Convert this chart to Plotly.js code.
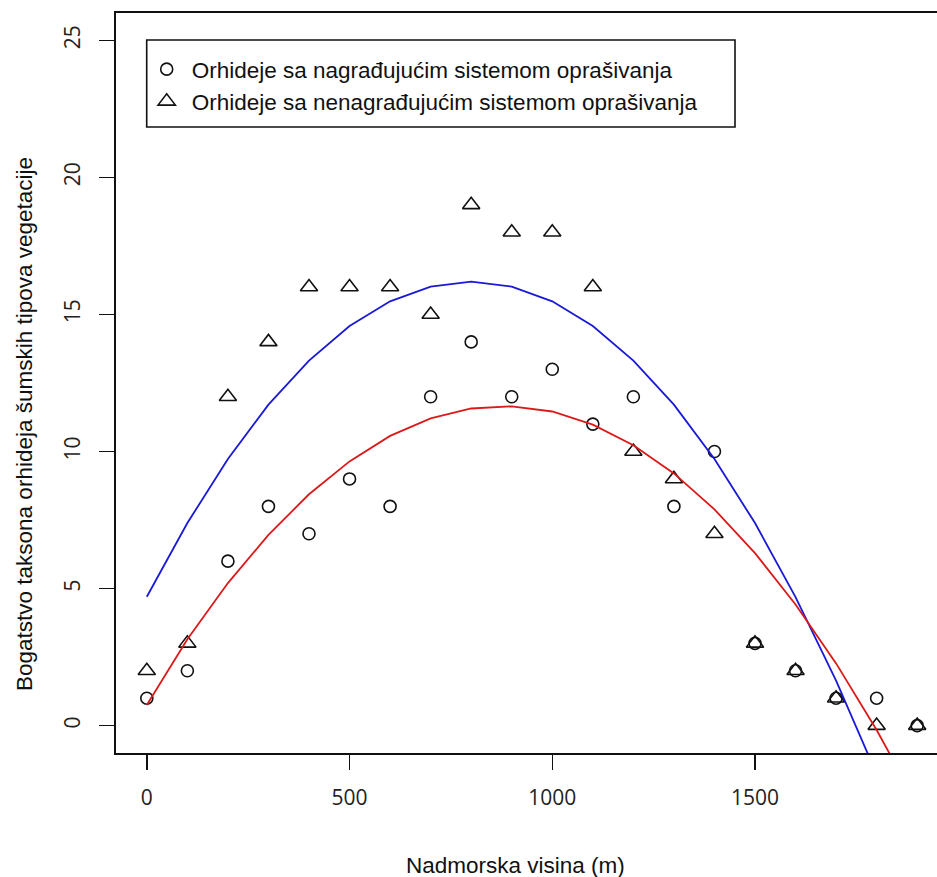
<!DOCTYPE html>
<html>
<head>
<meta charset="utf-8">
<script src="https://cdn.plot.ly/plotly-3.0.1.min.js"></script>
<style>
  html, body { margin: 0; padding: 0; overflow: hidden; background: #fff; }
  #chart { width: 960px; height: 877px; }
</style>
</head>
<body>
<div id="chart"></div>
<script>
// Elevation (m)
const elevation = [0, 100, 200, 300, 400, 500, 600, 700, 800, 900, 1000, 1100, 1200, 1300, 1400, 1500, 1600, 1700, 1800, 1900];
// Rewarding pollination system (circles)
const rewarding = [1, 2, 6, 8, 7, 9, 8, 12, 14, 12, 13, 11, 12, 8, 10, 3, 2, 1, 1, 0];
// Non-rewarding pollination system (triangles)
const nonrewarding = [2, 3, 12, 14, 16, 16, 16, 15, 19, 18, 18, 16, 10, 9, 7, 3, 2, 1, 0, 0];
// Fitted curves
const rewardingFit = [0.75, 3.15, 5.2, 6.96, 8.44, 9.64, 10.57, 11.21, 11.57, 11.65, 11.46, 10.98, 10.23, 9.2, 7.89, 6.29, 4.42, 2.27, -0.16, -2.86];
const nonrewardingFit = [4.7, 7.39, 9.73, 11.71, 13.32, 14.58, 15.48, 16.02, 16.2, 16.02, 15.48, 14.58, 13.32, 11.71, 9.73, 7.39, 4.69, 1.64, -1.77, -5.5];

const legendNames = ['Orhideje sa nagrađujućim sistemom oprašivanja', 'Orhideje sa nenagrađujućim sistemom oprašivanja'];
const xTicks = [0, 500, 1000, 1500];
const yTicks = [0, 5, 10, 15, 20, 25];

const traces = [
  {
    x: elevation, y: rewarding, type: 'scatter', mode: 'markers', name: legendNames[0],
    marker: { symbol: 'circle-open', size: 12, color: '#111', line: { width: 1.6, color: '#111' } }
  },
  {
    x: elevation, y: nonrewarding, type: 'scatter', mode: 'markers', name: legendNames[1],
    marker: { symbol: 'triangle-up-open', size: 15, color: '#111', line: { width: 1.6, color: '#111' } }
  },
  {
    x: elevation, y: nonrewardingFit, type: 'scatter', mode: 'lines', showlegend: false,
    line: { color: 'rgb(25,25,215)', width: 1.8 }
  },
  {
    x: elevation, y: rewardingFit, type: 'scatter', mode: 'lines', showlegend: false,
    line: { color: 'rgb(220,25,25)', width: 1.8 }
  }
];

const L = 116, R = 948, T = 13, B = 753;
const W = R - L, H = B - T;
const px = v => (v - L) / W;
const py = v => (B - v) / H;

const layout = {
  width: 960, height: 877,
  margin: { l: L, r: 960 - R, t: T, b: 877 - B, pad: 0 },
  paper_bgcolor: '#fff', plot_bgcolor: '#fff',
  showlegend: true,
  legend: {
    x: px(141.7), y: py(48), xanchor: 'left', yanchor: 'top',
    bgcolor: 'rgba(0,0,0,0)', borderwidth: 0, itemwidth: 40,
    font: { family: 'Liberation Sans, Arial, sans-serif', size: 22.5, color: '#111' }
  },
  xaxis: {
    range: [-76, 1976], tickvals: xTicks, ticktext: xTicks.map(String),
    ticks: 'outside', ticklen: 15, tickwidth: 1.5, tickcolor: '#111',
    showline: true, linecolor: '#111', linewidth: 1.6, mirror: true,
    showgrid: false, zeroline: false, ticklabelstandoff: 10,
    tickfont: { family: 'Open Sans, sans-serif', size: 21, color: '#222' }
  },
  yaxis: {
    range: [-1, 26], tickvals: yTicks, ticktext: yTicks.map(String),
    ticks: 'outside', ticklen: 15, tickwidth: 1.5, tickcolor: '#111',
    showline: true, linecolor: '#111', linewidth: 1.6, mirror: true,
    showgrid: false, zeroline: false, tickangle: -90, ticklabelstandoff: 11,
    tickfont: { family: 'Open Sans, sans-serif', size: 21, color: '#222' }
  },
  shapes: [
    { type: 'rect', xref: 'paper', yref: 'paper', x0: px(146.7), x1: px(735), y0: py(127), y1: py(40),
      line: { color: '#111', width: 1.6 }, fillcolor: 'rgba(0,0,0,0)' }
  ],
  annotations: [
    { text: 'Nadmorska visina (m)', xref: 'paper', yref: 'paper', x: px(515), y: py(865),
      xanchor: 'center', yanchor: 'middle', showarrow: false,
      font: { family: 'Liberation Sans, Arial, sans-serif', size: 22.5, color: '#111' } },
    { text: 'Bogatstvo taksona orhideja šumskih tipova vegetacije', xref: 'paper', yref: 'paper',
      x: px(24), y: py(424), xanchor: 'center', yanchor: 'middle', textangle: -90, showarrow: false,
      font: { family: 'Liberation Sans, Arial, sans-serif', size: 22.5, color: '#111' } }
  ]
};

Plotly.newPlot('chart', traces, layout, { displayModeBar: false, staticPlot: true });
</script>
</body>
</html>
